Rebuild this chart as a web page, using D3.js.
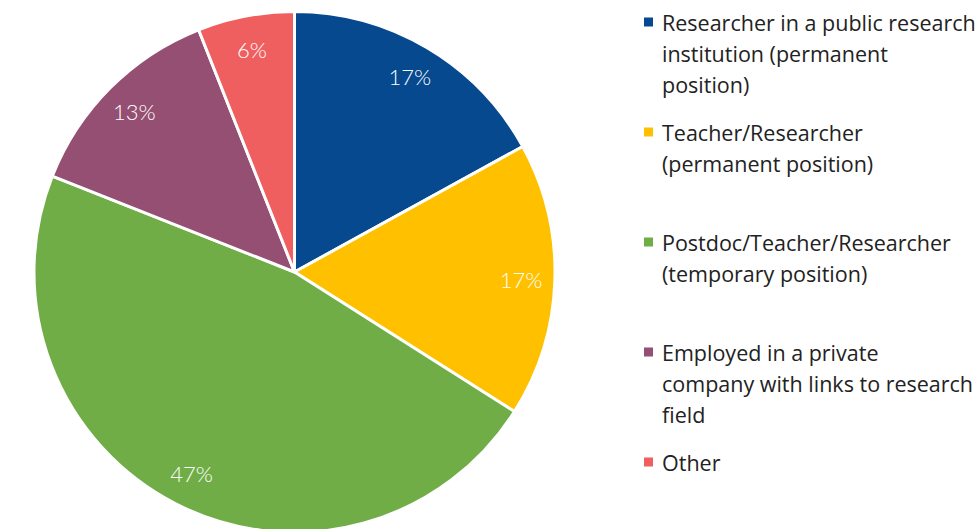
<!DOCTYPE html>
<html>
<head>
<meta charset="utf-8">
<script src="https://cdn.jsdelivr.net/npm/d3@7"></script>
<style>
  html, body { margin: 0; padding: 0; background: #fff; }
  svg { display: block; }
</style>
</head>
<body>
<div id="chart"></div>
<script>
// Categories and shares (%)
const categories = [
    'Researcher in a public research institution (permanent position)',
    'Teacher/Researcher (permanent position)',
    'Postdoc/Teacher/Researcher (temporary position)',
    'Employed in a private company with links to research field',
    'Other'
];
const values = [17, 17, 47, 13, 6];
const colors = ['#07498f', '#ffc000', '#70ad47', '#954f72', '#ef5f60'];
// Legend text as it is wrapped in the picture
const legendLines = [
    ['Researcher in a public research', 'institution (permanent', 'position)'],
    ['Teacher/Researcher', '(permanent position)'],
    ['Postdoc/Teacher/Researcher', '(temporary position)'],
    ['Employed in a private', 'company with links to research', 'field'],
    ['Other']
];

const width = 980, height = 529;
const cx = 294.5, cy = 272, radius = 260.5;

const svg = d3.select('#chart').append('svg')
    .attr('width', width)
    .attr('height', height);

const data = categories.map((c, i) => ({ name: c, value: values[i], color: colors[i], lines: legendLines[i] }));

const pie = d3.pie()
    .value(d => d.value)
    .sort(null);

const arc = d3.arc().innerRadius(0).outerRadius(radius);
const labelArc = d3.arc().innerRadius(radius * 0.87).outerRadius(radius * 0.87);

const g = svg.append('g').attr('transform', `translate(${cx},${cy})`);
const arcs = pie(data);

g.selectAll('path')
    .data(arcs)
    .join('path')
    .attr('d', arc)
    .attr('fill', d => d.data.color)
    .attr('stroke', '#fff')
    .attr('stroke-width', 3)
    .attr('stroke-linejoin', 'round');

g.selectAll('text')
    .data(arcs)
    .join('text')
    .attr('transform', d => `translate(${labelArc.centroid(d)})`)
    .attr('text-anchor', 'middle')
    .attr('dominant-baseline', 'central')
    .attr('font-family', 'Lato, sans-serif')
    .attr('font-weight', 300)
    .attr('font-size', '22px')
    .attr('fill', '#fff')
    .text(d => d3.format('.0f')(d.data.value) + '%');

// Legend
const legendX = 644, legendY = 22, itemGap = 110, lineH = 31;
const legend = svg.append('g')
    .selectAll('g')
    .data(data)
    .join('g')
    .attr('transform', (d, i) => `translate(${legendX},${legendY + i * itemGap})`);

legend.append('rect')
    .attr('x', 0).attr('y', -4.5)
    .attr('width', 9).attr('height', 9)
    .attr('fill', d => d.color);

legend.each(function (d) {
    const t = d3.select(this).append('text')
        .attr('font-family', '"Open Sans", sans-serif')
        .attr('font-size', '21.5px')
        .attr('fill', '#222');
    d.lines.forEach((line, j) => {
        t.append('tspan')
            .attr('x', 18)
            .attr('y', j * lineH)
            .attr('dominant-baseline', 'central')
            .text(line);
    });
});
</script>
</body>
</html>
